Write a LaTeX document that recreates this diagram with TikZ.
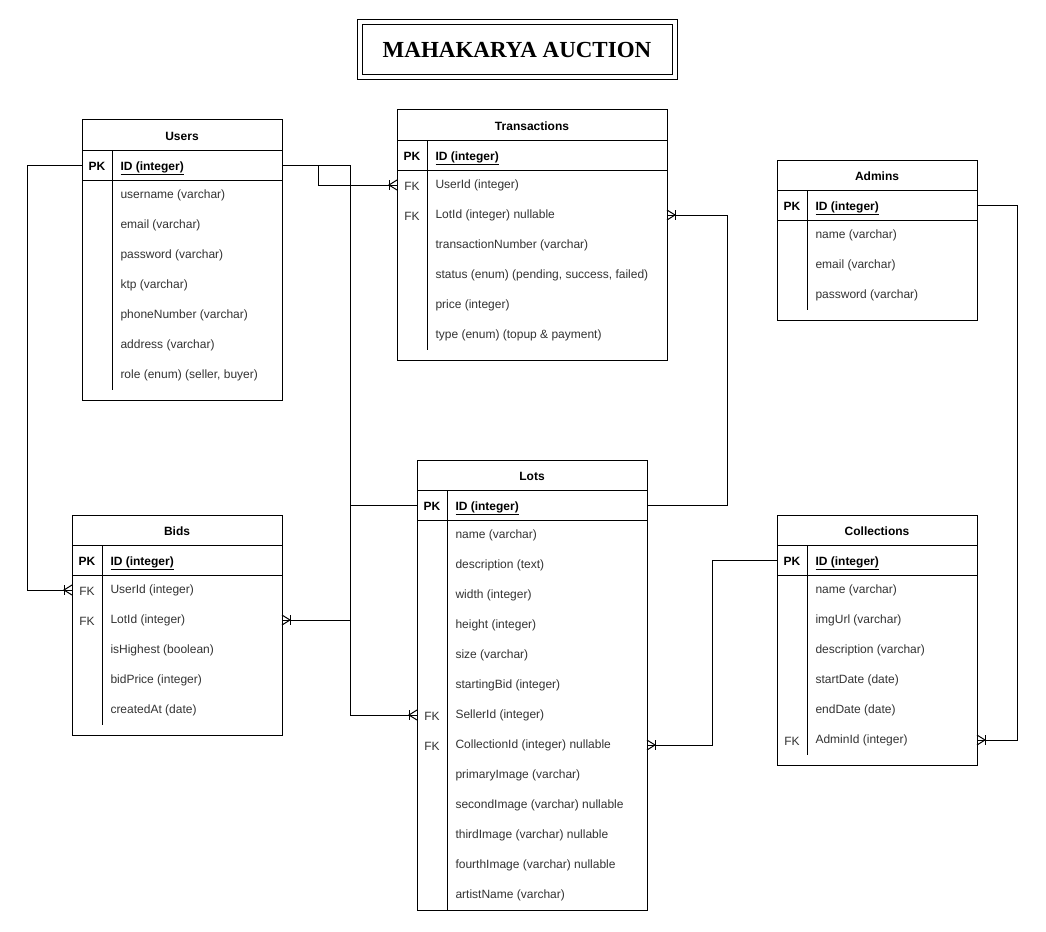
\documentclass[tikz,border=0pt]{standalone}
\usepackage{fontspec}
\setmainfont{Liberation Sans}
\newfontfamily\titlefont{Liberation Serif}
\definecolor{txt}{HTML}{333333}
\begin{document}
\begin{tikzpicture}[x=1pt,y=-1pt,line width=1pt,
  tbl/.style={draw=black,fill=white,inner sep=0pt,outer sep=0pt},
  hdr/.style={font=\fontsize{12}{14}\selectfont\bfseries,inner sep=0pt,text height=12pt,text depth=1pt},
  pk/.style={font=\fontsize{12}{14}\selectfont\bfseries,inner sep=0pt,text height=11pt,text depth=1pt},
  fk/.style={font=\fontsize{12}{14}\selectfont,text=txt,inner sep=0pt,text height=11pt,text depth=1pt},
  idtxt/.style={font=\fontsize{12}{14}\selectfont\bfseries,inner sep=0pt,anchor=west,text height=11pt,text depth=1pt},
  attr/.style={font=\fontsize{12}{14}\selectfont,text=txt,inner sep=0pt,anchor=west,text height=9pt,text depth=2pt},
  conn/.style={draw=black,line width=1pt},
  crow/.pic={\draw[line width=1pt] (-8,-5) -- (-8,5); \draw[line width=1pt] (0,-5) -- (-8,0) -- (0,5);}
]
\useasboundingbox (0,0) rectangle (1046,931);
\fill[white] (0,0) rectangle (1046,931);

% Title
\node[draw, minimum width=320pt, minimum height=60pt, inner sep=0pt] (title) at (517,50) {};
\node[draw, minimum width=310pt, minimum height=50pt, inner sep=0pt, font=\titlefont\fontsize{23}{26}\selectfont\bfseries] (titletext) at (517,50) {MAHAKARYA AUCTION};

% ---------- Users ----------
\node[tbl, minimum width=200pt, minimum height=280pt] (users) at (182,260) {};
\draw (users.west |- 0,150) -- (users.east |- 0,150);
\draw (users.west |- 0,180) -- (users.east |- 0,180);
\draw (112,150) -- (112,390);
\node[hdr] (users-h) at (182,135) {Users};
\node[pk] (users-pk) at (97,165) {PK};
\node[idtxt] (users-id) at (120,165) {\underline{ID (integer)}};
\foreach \t [count=\i] in {username (varchar), email (varchar), password (varchar), ktp (varchar), phoneNumber (varchar), address (varchar), {role (enum) (seller, buyer)}}
  \node[attr] (users-a\i) at (120,{165+30*\i}) {\t};

% ---------- Transactions ----------
\node[tbl, minimum width=270pt, minimum height=250pt] (trans) at (532,235) {};
\draw (trans.west |- 0,140) -- (trans.east |- 0,140);
\draw (trans.west |- 0,170) -- (trans.east |- 0,170);
\draw (427,140) -- (427,350);
\node[hdr] (trans-h) at (532,125) {Transactions};
\node[pk] (trans-pk) at (412,155) {PK};
\node[idtxt] (trans-id) at (435,155) {\underline{ID (integer)}};
\foreach \t [count=\i] in {UserId (integer), LotId (integer) nullable, transactionNumber (varchar), {status (enum) (pending, success, failed)}, price (integer), type (enum) (topup \& payment)}
  \node[attr] (trans-a\i) at (435,{155+30*\i}) {\t};
\node[fk] (trans-fk1) at (412,185) {FK};
\node[fk] (trans-fk2) at (412,215) {FK};

% ---------- Admins ----------
\node[tbl, minimum width=200pt, minimum height=160pt] (admins) at (877,240) {};
\draw (admins.west |- 0,190) -- (admins.east |- 0,190);
\draw (admins.west |- 0,220) -- (admins.east |- 0,220);
\draw (807,190) -- (807,310);
\node[hdr] (admins-h) at (877,175) {Admins};
\node[pk] (admins-pk) at (792,205) {PK};
\node[idtxt] (admins-id) at (815,205) {\underline{ID (integer)}};
\foreach \t [count=\i] in {name (varchar), email (varchar), password (varchar)}
  \node[attr] (admins-a\i) at (815,{205+30*\i}) {\t};

% ---------- Lots ----------
\node[tbl, minimum width=230pt, minimum height=450pt] (lots) at (532,685) {};
\draw (lots.west |- 0,490) -- (lots.east |- 0,490);
\draw (lots.west |- 0,520) -- (lots.east |- 0,520);
\draw (447,490) -- (447,910);
\node[hdr] (lots-h) at (532,475) {Lots};
\node[pk] (lots-pk) at (432,505) {PK};
\node[idtxt] (lots-id) at (455,505) {\underline{ID (integer)}};
\foreach \t [count=\i] in {name (varchar), description (text), width (integer), height (integer), size (varchar), startingBid (integer), SellerId (integer), CollectionId (integer) nullable, primaryImage (varchar), secondImage (varchar) nullable, thirdImage (varchar) nullable, fourthImage (varchar) nullable, artistName (varchar)}
  \node[attr] (lots-a\i) at (455,{505+30*\i}) {\t};
\node[fk] (lots-fk1) at (432,715) {FK};
\node[fk] (lots-fk2) at (432,745) {FK};

% ---------- Bids ----------
\node[tbl, minimum width=210pt, minimum height=220pt] (bids) at (177,625) {};
\draw (bids.west |- 0,545) -- (bids.east |- 0,545);
\draw (bids.west |- 0,575) -- (bids.east |- 0,575);
\draw (102,545) -- (102,725);
\node[hdr] (bids-h) at (177,530) {Bids};
\node[pk] (bids-pk) at (87,560) {PK};
\node[idtxt] (bids-id) at (110,560) {\underline{ID (integer)}};
\foreach \t [count=\i] in {UserId (integer), LotId (integer), isHighest (boolean), bidPrice (integer), createdAt (date)}
  \node[attr] (bids-a\i) at (110,{560+30*\i}) {\t};
\node[fk] (bids-fk1) at (87,590) {FK};
\node[fk] (bids-fk2) at (87,620) {FK};

% ---------- Collections ----------
\node[tbl, minimum width=200pt, minimum height=250pt] (colls) at (877,640) {};
\draw (colls.west |- 0,545) -- (colls.east |- 0,545);
\draw (colls.west |- 0,575) -- (colls.east |- 0,575);
\draw (807,545) -- (807,755);
\node[hdr] (colls-h) at (877,530) {Collections};
\node[pk] (colls-pk) at (792,560) {PK};
\node[idtxt] (colls-id) at (815,560) {\underline{ID (integer)}};
\foreach \t [count=\i] in {name (varchar), imgUrl (varchar), description (varchar), startDate (date), endDate (date), AdminId (integer)}
  \node[attr] (colls-a\i) at (815,{560+30*\i}) {\t};
\node[fk] (colls-fk1) at (792,740) {FK};

% ---------- Connectors ----------
\draw[conn] (users.east |- users-id) -- ++(36,0) |- (trans.west |- trans-a1);
\draw[conn] (users.east |- users-id) -- ++(68,0) |- (lots.west |- lots-a7);
\draw[conn] (lots.west |- lots-id) -- ++(-67,0) |- (bids.east |- bids-a2);
\draw[conn] (users.west |- users-id) -- ++(-55,0) |- (bids.west |- bids-a1);
\draw[conn] (lots.east |- lots-id) -- ++(80,0) |- (trans.east |- trans-a2);
\draw[conn] (colls.west |- colls-id) -- ++(-65,0) |- (lots.east |- lots-a8);
\draw[conn] (admins.east |- admins-id) -- ++(40,0) |- (colls.east |- colls-a6);

% crow's feet (one-to-many)
\pic at (trans.west |- trans-a1) {crow};
\pic at (lots.west |- lots-a7) {crow};
\pic at (bids.west |- bids-a1) {crow};
\pic[xscale=-1] at (bids.east |- bids-a2) {crow};
\pic[xscale=-1] at (trans.east |- trans-a2) {crow};
\pic[xscale=-1] at (lots.east |- lots-a8) {crow};
\pic[xscale=-1] at (colls.east |- colls-a6) {crow};
\end{tikzpicture}
\end{document}
